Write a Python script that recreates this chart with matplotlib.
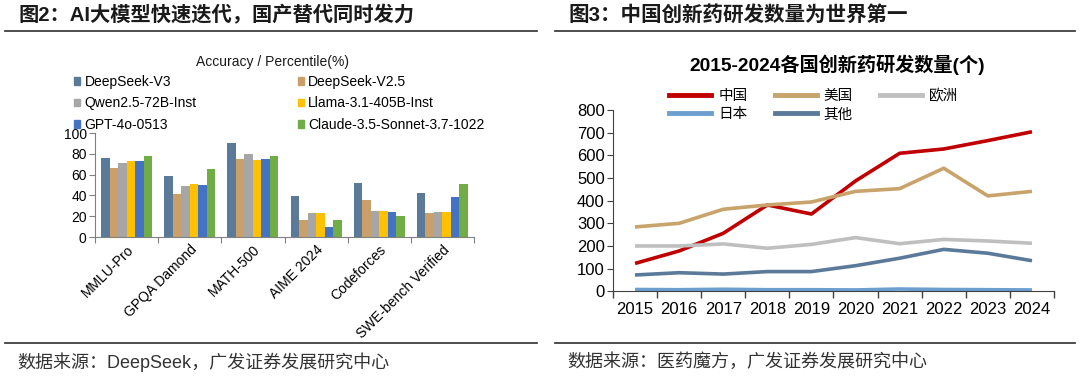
import numpy as np
import matplotlib
matplotlib.use("Agg")
from matplotlib import pyplot as plt
from matplotlib.patches import Patch
from matplotlib.lines import Line2D

plt.rcParams['font.family'] = ['Liberation Sans', 'Noto Sans CJK SC', 'DejaVu Sans']

# left chart: benchmark scores
benchmarks = ['MMLU-Pro', 'GPQA Damond', 'MATH-500', 'AIME 2024', 'Codeforces', 'SWE-bench Verified']
models = ['DeepSeek-V3', 'DeepSeek-V2.5', 'Qwen2.5-72B-Inst', 'Llama-3.1-405B-Inst',
          'GPT-4o-0513', 'Claude-3.5-Sonnet-3.7-1022']
deepseek_v3 = [75.9, 59.1, 90.2, 39.2, 51.6, 42.0]
deepseek_v25 = [66.2, 41.3, 74.7, 16.7, 35.6, 22.6]
qwen = [71.6, 49.0, 80.0, 23.3, 24.8, 23.8]
llama = [73.3, 51.1, 73.8, 23.3, 25.3, 24.5]
gpt4o = [72.6, 49.9, 74.6, 9.3, 23.6, 38.8]
claude = [78.0, 65.0, 78.3, 16.0, 20.3, 50.8]
bar_colors = ['#5B7A99', '#C9A06A', '#A6A6A6', '#FFC000', '#4472C4', '#70AD47']

# right chart: new drug R&D counts
years = ['2015', '2016', '2017', '2018', '2019', '2020', '2021', '2022', '2023', '2024']
china = [123, 178, 256, 381, 341, 487, 609, 628, 665, 704]
usa = [284, 300, 362, 381, 394, 441, 453, 543, 421, 441]
europe = [200, 200, 209, 190, 207, 237, 210, 229, 222, 212]
japan = [8, 7, 9, 7, 7, 6, 10, 8, 7, 6]
others = [72, 82, 76, 87, 87, 113, 146, 185, 168, 135]
line_names = ['中国', '美国', '欧洲', '日本', '其他']
line_colors = ['#C00000', '#C8A36B', '#BFBFBF', '#6C9FD0', '#5B7A99']

fig = plt.figure(figsize=(10.8, 3.77), dpi=100)
W, H = 1080, 377

def fx(px):
    return px / W

def fy(py):
    return 1 - py / H

text_col = '#1a1a1a'

# headers and rules
fig.text(fx(18), fy(15), '图2：AI大模型快速迭代，国产替代同时发力', fontsize=14.6, fontweight='bold',
         color=text_col, va='center', ha='left')
fig.text(fx(568), fy(15), '图3：中国创新药研发数量为世界第一', fontsize=14.8, fontweight='bold',
         color=text_col, va='center', ha='left')
for x0, x1 in [(5, 537), (555, 1075)]:
    fig.add_artist(Line2D([fx(x0), fx(x1)], [fy(31), fy(31)], color='#404040', lw=1.3))
    fig.add_artist(Line2D([fx(x0), fx(x1)], [fy(343), fy(343)], color='#404040', lw=1.3))
fig.text(fx(17), fy(362), '数据来源：DeepSeek，广发证券发展研究中心', fontsize=13, color='#333333',
         va='center', ha='left')
fig.text(fx(567), fy(362), '数据来源：医药魔方，广发证券发展研究中心', fontsize=13, color='#333333',
         va='center', ha='left')

# ---- left chart
ax1 = fig.add_axes([fx(95), fy(237), fx(474 - 95), (237 - 133) / H])
series = [deepseek_v3, deepseek_v25, qwen, llama, gpt4o, claude]
x = np.arange(len(benchmarks))
bw = 0.135
for i, (vals, c) in enumerate(zip(series, bar_colors)):
    ax1.bar(x + (i - 2.5) * bw, vals, width=bw, color=c, label=models[i])
ax1.set_xlim(-0.5, len(benchmarks) - 0.5)
ax1.set_ylim(0, 100)
ax1.set_yticks(range(0, 101, 20))
ax1.tick_params(axis='y', labelsize=10, length=4, color='#808080', pad=2)
ax1.set_xticks(np.arange(-0.5, len(benchmarks)), minor=False)
ax1.set_xticklabels([])
ax1.tick_params(axis='x', length=4, color='#808080')
ax1.set_xticks(x, minor=True)
ax1.set_xticklabels(benchmarks, minor=True, rotation=45, ha='right', rotation_mode='anchor',
                    fontsize=10)
ax1.tick_params(axis='x', which='minor', length=0, pad=4)
for s in ['top', 'right']:
    ax1.spines[s].set_visible(False)
for s in ['left', 'bottom']:
    ax1.spines[s].set_color('#808080')

fig.text(fx(273), fy(62), 'Accuracy / Percentile(%)', fontsize=10, ha='center', va='center',
         color=text_col)
handles = [Patch(color=c) for c in bar_colors]
order = [0, 2, 4, 1, 3, 5]
fig.legend([handles[i] for i in order], [models[i] for i in order], ncol=2,
           loc='upper left', bbox_to_anchor=(fx(74), fy(75)), frameon=False, fontsize=10,
           handlelength=0.45, handleheight=0.45, handletextpad=0.3, columnspacing=7.3,
           labelspacing=0.53, borderaxespad=0, borderpad=0)

# ---- right chart
ax2 = fig.add_axes([fx(613), fy(291.3), fx(1054 - 613), (291.3 - 110) / H])
data = [china, usa, europe, japan, others]
xi = np.arange(len(years))
for vals, c, name in zip(data, line_colors, line_names):
    ax2.plot(xi, vals, color=c, lw=2.6, label=name, solid_capstyle='butt')
ax2.set_xlim(-0.5, len(years) - 0.5)
ax2.set_ylim(0, 800)
ax2.set_yticks(range(0, 801, 100))
ax2.tick_params(axis='y', labelsize=12, length=4, color='#404040', pad=2)
ax2.set_xticks(np.arange(-0.5, len(years)))
ax2.set_xticklabels([])
ax2.tick_params(axis='x', length=5, color='#404040', width=1)
ax2.set_xticks(xi, minor=True)
ax2.set_xticklabels(years, minor=True, fontsize=12)
ax2.tick_params(axis='x', which='minor', length=0, pad=8)
for s in ['top', 'right']:
    ax2.spines[s].set_visible(False)
for s in ['left', 'bottom']:
    ax2.spines[s].set_color('#404040')

fig.text(fx(837), fy(65), '2015-2024各国创新药研发数量(个)', fontsize=13.8, fontweight='bold',
         ha='center', va='center', color='black')
lh = [Line2D([0], [0], color=c, lw=3.5) for c in line_colors]
lorder = [0, 3, 1, 4, 2]
fig.legend([lh[i] for i in lorder], [line_names[i] for i in lorder], ncol=3,
           loc='upper left', bbox_to_anchor=(fx(669), fy(89)), frameon=False, fontsize=10.5,
           handlelength=2.9, handletextpad=0.48, columnspacing=1.85, labelspacing=0.3,
           borderaxespad=0, borderpad=0)

fig.savefig('out.png', dpi=100)
